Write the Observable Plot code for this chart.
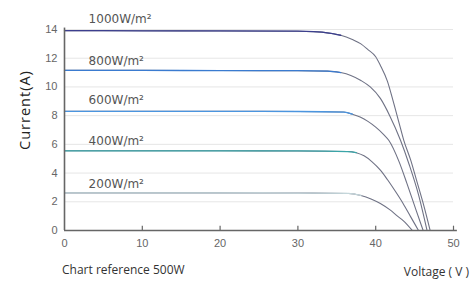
<!DOCTYPE html>
<html><head><meta charset="utf-8">
<script src="https://cdn.jsdelivr.net/npm/d3@7"></script>
<script src="https://cdn.jsdelivr.net/npm/@observablehq/plot@0.6"></script>
<style>
html,body{margin:0;padding:0;background:#fff;}
#chart{width:475px;height:282px;}
svg{display:block;}
</style></head>
<body><div id="chart"></div>
<script>
// ---- data ----
const seriesNames = ["1000W/m²", "800W/m²", "600W/m²", "400W/m²", "200W/m²"];
const v1000 = [0, 10, 20, 30, 32, 34, 35.5, 37, 38.1, 39, 40, 40.6, 41.5, 42.2, 43, 43.6, 44.5, 45.3, 46.2, 47.0];
const i1000 = [13.92, 13.91, 13.9, 13.88, 13.85, 13.75, 13.6, 13.3, 13.0, 12.6, 12.1, 11.5, 10.4, 9.1, 7.5, 6.3, 4.9, 3.4, 1.7, 0];
const v800 = [0, 10, 20, 30, 33.8, 35.5, 36.8, 38.1, 39.3, 40.6, 41.8, 43.2, 44.3, 45.5, 46.6];
const i800 = [11.15, 11.15, 11.14, 11.13, 11.1, 11.0, 10.8, 10.45, 10.0, 9.2, 8.0, 6.27, 4.6, 2.5, 0];
const v600 = [0, 10, 20, 30, 35.9, 37, 38, 39, 40, 41, 41.7, 43, 44, 45.2, 46.1];
const i600 = [8.3, 8.3, 8.3, 8.29, 8.25, 8.1, 7.9, 7.6, 7.2, 6.7, 6.27, 4.8, 3.3, 1.4, 0];
const v400 = [0, 10, 20, 30, 36.4, 37.5, 38.5, 39.5, 40.6, 41.5, 42.5, 43.5, 44.5, 45.5];
const i400 = [5.55, 5.55, 5.55, 5.54, 5.5, 5.42, 5.2, 4.8, 4.2, 3.55, 2.75, 1.9, 0.95, 0];
const v200 = [0, 10, 20, 30, 36.5, 38.1, 39.4, 40.6, 41.8, 42.8, 43.6, 44.7];
const i200 = [2.62, 2.62, 2.62, 2.61, 2.58, 2.44, 2.2, 1.88, 1.45, 1.0, 0.65, 0];
const kneeIndex = [6, 5, 5, 5, 5];          // last point drawn in the series colour
const xTicks = [0, 10, 20, 30, 40, 50];
const yTicks = [0, 2, 4, 6, 8, 10, 12, 14];

// ---- styles ----
const flatColors = ["#3c3f8e", "#3a7bd0", "#4b95df", "#3aa5a8", "#c4d6da"];
const curveColor = "#6f7285";
const labelPos = [14.75, 11.8, 9.1, 6.2, 3.2];

const vs = [v1000, v800, v600, v400, v200];
const is = [i1000, i800, i600, i400, i200];
const full = [], flat = [];
seriesNames.forEach((name, s) => {
  vs[s].forEach((v, k) => {
    const d = {name, v, i: is[s][k]};
    full.push(d);
    if (k <= kneeIndex[s]) flat.push(d);
  });
});
const labels = seriesNames.map((name, s) => ({name, v: 3.1, i: labelPos[s]}));

const plot = Plot.plot({
  width: 475, height: 282,
  marginLeft: 64, marginRight: 22, marginTop: 29, marginBottom: 52,
  style: {fontFamily: "'Liberation Sans', Arial, sans-serif", fontSize: "11px", color: "#666", background: "transparent"},
  x: {domain: [0, 50], ticks: xTicks, label: null},
  y: {domain: [0, 14], ticks: yTicks, label: null},
  marks: [
    Plot.gridY(yTicks.slice(1), {stroke: "#e6e6e6", strokeOpacity: 1}),
    Plot.line(full, {x: "v", y: "i", z: "name", stroke: curveColor, strokeWidth: 1.1, curve: "monotone-x"}),
    Plot.line(flat, {x: "v", y: "i", z: "name", stroke: "name", strokeWidth: 1.3, curve: "monotone-x"}),
    Plot.ruleY([0], {x1: 0, x2: 50.5, stroke: "#666", strokeWidth: 1.6}),
    Plot.ruleX([0], {y1: 0, y2: 14.1, stroke: "#666", strokeWidth: 1.6}),
    Plot.ruleX(xTicks.slice(1), {y1: 0, y2: 0.3, stroke: "#666", strokeWidth: 1.2}),
    Plot.axisX({ticks: xTicks, tickSize: 0, tickPadding: 9, fill: "#666"}),
    Plot.axisY({ticks: yTicks, tickSize: 0, tickPadding: 7, fill: "#666"}),
    Plot.text(labels, {x: "v", y: "i", text: "name", textAnchor: "start", lineAnchor: "middle",
      fill: "#555", fontSize: 12, fontFamily: "'DejaVu Sans', sans-serif"})
  ],
  color: {domain: seriesNames, range: flatColors}
});
document.getElementById("chart").appendChild(plot);

const svg = d3.select(plot);
svg.append("text").attr("transform", "translate(26,110) rotate(-90)")
  .attr("text-anchor", "middle").attr("dominant-baseline", "middle")
  .style("font-family", "'Open Sans', sans-serif").style("font-size", "14.5px")
  .style("letter-spacing", "1px").attr("fill", "#222").text("Current(A)");
svg.append("text").attr("x", 62).attr("y", 274).attr("text-anchor", "start")
  .style("font-family", "'Open Sans', sans-serif").style("font-size", "12px")
  .attr("fill", "#333").text("Chart reference 500W");
svg.append("text").attr("x", 469).attr("y", 276).attr("text-anchor", "end")
  .style("font-family", "'Open Sans', sans-serif").style("font-size", "12px")
  .attr("fill", "#333").text("Voltage ( V )");
</script></body></html>
